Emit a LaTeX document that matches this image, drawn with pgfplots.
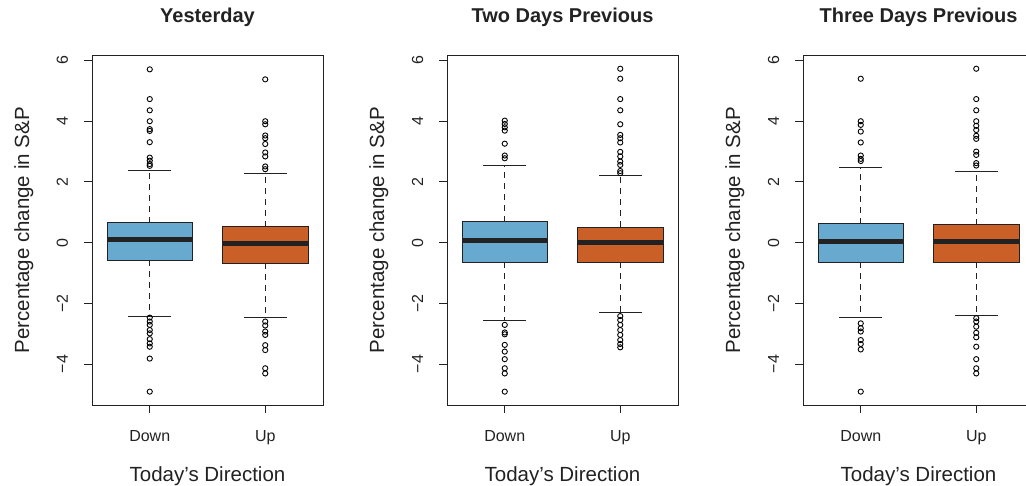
\documentclass[border=0pt]{standalone}
\usepackage{fontspec}
\setmainfont{Liberation Sans}
\usepackage{pgfplots}
\pgfplotsset{compat=1.18}
\usepgfplotslibrary{statistics}

\definecolor{downblue}{HTML}{67A9CF}
\definecolor{uporange}{HTML}{CB5F28}
\definecolor{ink}{HTML}{222222}

% R-style whiskers: dashed stem, solid staple
\pgfplotsset{
  boxplot/draw/lower whisker/.code={%
    \draw[dash pattern=on 6pt off 5pt]
      (boxplot cs:\pgfplotsboxplotvalue{lower quartile}) --
      (boxplot cs:\pgfplotsboxplotvalue{lower whisker});
    \draw (boxplot whisker cs:\pgfplotsboxplotvalue{lower whisker},0) --
      (boxplot whisker cs:\pgfplotsboxplotvalue{lower whisker},1);
  },
  boxplot/draw/upper whisker/.code={%
    \draw[dash pattern=on 6pt off 5pt]
      (boxplot cs:\pgfplotsboxplotvalue{upper quartile}) --
      (boxplot cs:\pgfplotsboxplotvalue{upper whisker});
    \draw (boxplot whisker cs:\pgfplotsboxplotvalue{upper whisker},0) --
      (boxplot whisker cs:\pgfplotsboxplotvalue{upper whisker},1);
  },
  rpanel/.style={
    scale only axis, width=231pt, height=349.3pt, anchor=south west,
    xmin=0.5, xmax=2.5, ymin=-5.35, ymax=6.16,
    xtick={1,2}, xticklabels={Down,Up},
    ytick={-4,-2,0,2,4,6}, yticklabels={−4,−2,0,2,4,6},
    xtick pos=bottom, ytick pos=left,
    tick align=outside, major tick length=8pt,
    axis line style={draw=ink, line width=0.9pt},
    every tick/.style={draw=ink, line width=0.9pt},
    tick label style={font=\fontsize{16}{19}\selectfont, text=ink},
    xticklabel style={anchor=base},
    yticklabel style={rotate=90, anchor=base},
    xticklabel shift=29pt, yticklabel shift=16pt,
    label style={font=\fontsize{20.5}{24}\selectfont, text=ink},
    xlabel={Today’s Direction},
    ylabel={Percentage change in S\&P},
    xlabel style={at={(axis description cs:0.5,-0.2196)}, anchor=base},
    ylabel style={at={(axis description cs:-0.2727,0.5)}, anchor=base},
    title style={at={(axis description cs:0.5,1.078)}, anchor=base,
      font=\bfseries\fontsize{20}{24}\selectfont, text=ink},
  },
  rbox/.style={
    draw=ink, line width=0.9pt,
    mark=o, mark size=2.6pt, mark options={solid, draw=black, line width=0.9pt},
    boxplot/draw direction=y,
    boxplot/box extend=0.74, boxplot/whisker extend=0.37,
    boxplot/every median/.style={line width=5pt, draw=ink},
  },
}

\begin{document}
\begin{tikzpicture}
\useasboundingbox (0,0) rectangle (1026pt,486pt);

\begin{axis}[rpanel, at={(92pt,81pt)}, title={Yesterday}]
\addplot[rbox, boxplot/every box/.style={fill=downblue},
  boxplot prepared={draw position=1, median=0.09, upper quartile=0.66,
    lower quartile=-0.58, upper whisker=2.37, lower whisker=-2.44}]
  table[row sep=\\, y index=0] {v\\ 5.71\\ 4.73\\ 4.36\\ 4.00\\ 3.74\\ 3.68\\ 3.31\\ 2.80\\ 2.70\\ 2.59\\ 2.53\\
    -2.47\\ -2.60\\ -2.71\\ -2.88\\ -2.99\\ -3.18\\ -3.32\\ -3.43\\ -3.82\\ -4.91\\};
\addplot[rbox, boxplot/every box/.style={fill=uporange},
  boxplot prepared={draw position=2, median=-0.04, upper quartile=0.52,
    lower quartile=-0.67, upper whisker=2.29, lower whisker=-2.47}]
  table[row sep=\\, y index=0] {v\\ 5.38\\ 4.00\\ 3.90\\ 3.53\\ 3.44\\ 3.25\\ 2.97\\ 2.84\\ 2.51\\ 2.42\\
    -2.60\\ -2.73\\ -2.93\\ -3.04\\ -3.38\\ -3.54\\ -4.14\\ -4.31\\};
\end{axis}

\begin{axis}[rpanel, at={(447pt,81pt)}, title={Two Days Previous}]
\addplot[rbox, boxplot/every box/.style={fill=downblue},
  boxplot prepared={draw position=1, median=0.07, upper quartile=0.69,
    lower quartile=-0.64, upper whisker=2.54, lower whisker=-2.58}]
  table[row sep=\\, y index=0] {v\\ 4.02\\ 3.91\\ 3.80\\ 3.69\\ 3.26\\ 2.87\\ 2.78\\
    -2.71\\ -2.96\\ -3.02\\ -3.37\\ -3.59\\ -3.84\\ -4.14\\ -4.31\\ -4.91\\};
\addplot[rbox, boxplot/every box/.style={fill=uporange},
  boxplot prepared={draw position=2, median=0.02, upper quartile=0.51,
    lower quartile=-0.64, upper whisker=2.23, lower whisker=-2.31}]
  table[row sep=\\, y index=0] {v\\ 5.73\\ 5.40\\ 4.73\\ 4.36\\ 3.90\\ 3.55\\ 3.44\\ 3.30\\ 2.99\\ 2.84\\ 2.67\\ 2.56\\ 2.36\\ 2.29\\
    -2.42\\ -2.55\\ -2.71\\ -2.88\\ -3.04\\ -3.21\\ -3.34\\ -3.45\\};
\end{axis}

\begin{axis}[rpanel, at={(803pt,81pt)}, title={Three Days Previous}]
\addplot[rbox, boxplot/every box/.style={fill=downblue},
  boxplot prepared={draw position=1, median=0.04, upper quartile=0.62,
    lower quartile=-0.64, upper whisker=2.47, lower whisker=-2.47}]
  table[row sep=\\, y index=0] {v\\ 5.40\\ 4.00\\ 3.88\\ 3.66\\ 3.30\\ 2.87\\ 2.76\\ 2.69\\
    -2.66\\ -2.82\\ -2.93\\ -3.21\\ -3.34\\ -3.52\\ -4.91\\};
\addplot[rbox, boxplot/every box/.style={fill=uporange},
  boxplot prepared={draw position=2, median=0.04, upper quartile=0.59,
    lower quartile=-0.64, upper whisker=2.36, lower whisker=-2.41}]
  table[row sep=\\, y index=0] {v\\ 5.73\\ 4.73\\ 4.36\\ 4.00\\ 3.85\\ 3.71\\ 3.52\\ 3.42\\ 3.00\\ 2.89\\ 2.62\\ 2.54\\
    -2.49\\ -2.60\\ -2.77\\ -2.97\\ -3.12\\ -3.43\\ -3.84\\ -4.14\\ -4.31\\};
\end{axis}
\end{tikzpicture}
\end{document}
